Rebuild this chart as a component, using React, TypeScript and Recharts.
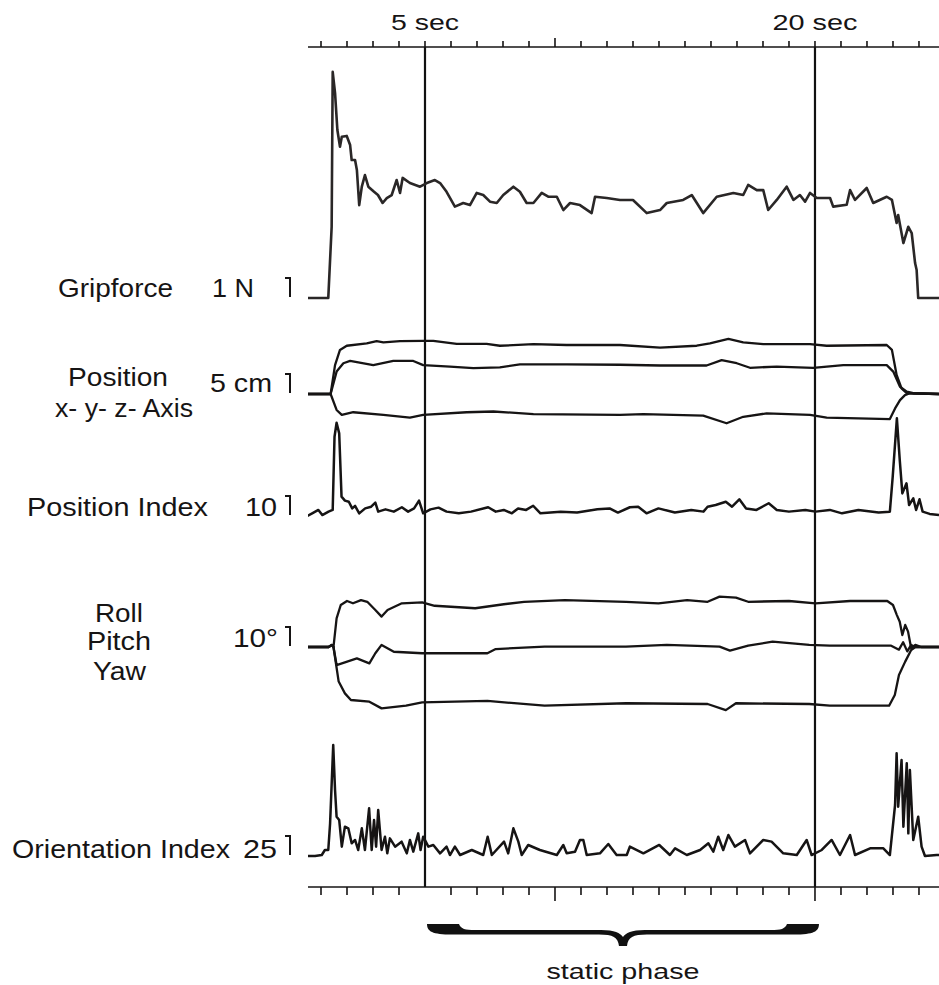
import {
  LineChart,
  Line,
  XAxis,
  YAxis,
  ReferenceLine,
  ReferenceArea,
} from "recharts";

// times in seconds, values in the unit of each scale bar
const gripT = [0.5, 1.28, 1.41, 1.45, 1.54, 1.63, 1.73, 1.8, 1.99, 2.12, 2.18, 2.31, 2.38, 2.47, 2.57, 2.69, 2.82, 3.04, 3.19, 3.37, 3.53, 3.72, 3.91, 4.04, 4.14, 4.42, 4.81, 5.07, 5.38, 5.58, 5.83, 6.15, 6.47, 6.73, 6.99, 7.24, 7.5, 7.76, 8.01, 8.4, 8.65, 8.91, 9.17, 9.49, 9.74, 10.07, 10.32, 10.58, 10.96, 11.41, 11.54, 11.99, 12.5, 13.0, 13.53, 14.04, 14.3, 14.93, 15.26, 15.7, 16.22, 16.86, 17.24, 17.43, 17.76, 18.01, 18.2, 18.53, 18.91, 19.17, 19.42, 19.62, 19.81, 20.07, 20.58, 20.7, 21.22, 21.35, 21.54, 21.99, 22.24, 22.76, 22.96, 23.14, 23.2, 23.4, 23.59, 23.72, 23.85, 23.91, 23.97, 24.77];
const gripN = [0, 0, 3.75, 11.9, 10.8, 8.84, 7.96, 8.49, 8.53, 8.05, 7.26, 7.26, 6.74, 4.89, 5.86, 6.47, 5.86, 5.59, 5.42, 5.0, 5.26, 5.42, 6.21, 5.53, 6.32, 6.05, 5.86, 6.05, 6.21, 6.05, 5.59, 4.81, 5.0, 4.89, 5.53, 5.42, 5.07, 5.0, 5.42, 5.86, 5.59, 5.0, 5.0, 5.53, 5.33, 5.33, 4.63, 5.0, 4.89, 4.47, 5.33, 5.26, 5.16, 5.16, 4.47, 4.63, 5.0, 5.16, 5.42, 4.47, 5.33, 5.53, 5.42, 5.95, 5.68, 5.68, 4.63, 5.16, 5.86, 5.16, 5.42, 5.07, 5.53, 5.26, 5.26, 4.81, 4.91, 5.68, 5.16, 5.79, 5.0, 5.33, 5.16, 3.95, 4.37, 2.89, 3.75, 3.42, 1.84, 1.47, 0, 0];

const posXT = [0.46, 1.37, 1.54, 1.73, 1.99, 2.76, 3.14, 3.4, 4.04, 4.93, 5.32, 6.22, 7.37, 7.88, 9.17, 10.45, 12.5, 14.04, 15.45, 15.96, 16.67, 17.24, 18.01, 19.81, 20.45, 22.76, 22.96, 23.14, 23.33, 23.53, 24.77];
const posX = [0, 0, 7.6, 11.6, 12.7, 13.3, 13.9, 13.6, 13.9, 14.0, 14.0, 13.2, 13.2, 12.7, 13.1, 12.9, 12.9, 12.2, 12.7, 13.3, 14.5, 13.6, 13.1, 13.1, 12.7, 12.9, 11.6, 5.0, 1.5, 0.2, 0];
const posYT = [0.46, 1.37, 1.6, 1.86, 2.12, 3.01, 3.78, 4.55, 4.93, 5.96, 6.86, 7.88, 8.65, 10.45, 12.5, 14.04, 15.83, 16.41, 16.99, 17.5, 18.53, 19.93, 21.09, 22.76, 23.01, 23.27, 23.53, 23.78, 24.77];
const posY = [0, 0, 5.9, 8.1, 8.7, 7.6, 8.7, 8.7, 7.6, 7.2, 6.8, 7.0, 7.8, 7.8, 7.7, 7.5, 7.5, 8.9, 8.1, 6.9, 7.2, 6.9, 7.6, 7.6, 5.9, 1.9, 0.6, 0.2, 0];
const posZT = [0.46, 1.37, 1.6, 1.8, 2.24, 3.4, 4.42, 4.93, 6.6, 7.63, 9.17, 12.5, 13.4, 15.7, 16.6, 17.24, 18.14, 19.81, 20.45, 22.88, 23.08, 23.27, 23.46, 23.65, 24.77];
const posZ = [0, 0, -4.2, -5.5, -4.8, -5.5, -6.2, -5.5, -4.8, -4.6, -5.3, -5.5, -5.3, -5.7, -7.7, -6.0, -5.1, -5.5, -6.2, -6.6, -3.8, -1.6, -0.3, 0.2, 0];

const posIdxT = [0.47, 0.66, 0.9, 1.05, 1.29, 1.45, 1.52, 1.6, 1.7, 1.79, 1.92, 2.07, 2.2, 2.31, 2.47, 2.7, 2.93, 3.09, 3.2, 3.48, 3.8, 4.11, 4.35, 4.58, 4.77, 4.93, 5.21, 5.52, 5.83, 6.3, 6.77, 7.43, 7.72, 8.03, 8.34, 8.58, 8.89, 9.16, 9.44, 10.22, 10.85, 11.63, 12.1, 12.42, 12.88, 13.2, 13.52, 13.98, 14.61, 15.24, 15.71, 15.87, 16.18, 16.57, 16.81, 17.09, 17.35, 17.75, 18.22, 18.53, 19.0, 19.63, 20.02, 20.57, 21.04, 21.67, 22.45, 22.88, 22.99, 23.15, 23.26, 23.36, 23.52, 23.62, 23.78, 23.89, 24.02, 24.14, 24.41, 24.77];
const posIdx = [0, 1.4, 3.2, 0.5, 2.3, 3.2, 41.7, 49.1, 43.5, 10.2, 8.1, 7.5, 4.0, 5.3, 1.4, 4.0, 4.9, 7.0, 2.3, 3.5, 2.3, 4.6, 2.3, 4.0, 8.1, 1.4, 3.5, 4.4, 2.3, 1.4, 2.3, 4.6, 2.3, 3.2, 1.4, 4.0, 3.2, 5.4, 1.4, 2.3, 1.8, 3.5, 4.0, 1.8, 4.6, 4.9, 1.4, 4.0, 1.8, 3.2, 2.3, 4.9, 5.8, 7.5, 4.9, 8.8, 4.0, 3.2, 6.7, 3.2, 2.3, 3.2, 2.3, 3.2, 1.4, 3.2, 1.8, 2.3, 20.7, 51.4, 29.5, 11.9, 17.2, 5.8, 9.3, 3.2, 8.8, 2.3, 1.1, 0.5];

const rollT = [0.5, 1.29, 1.42, 1.48, 1.6, 1.76, 2.0, 2.23, 2.54, 2.78, 3.09, 3.33, 3.56, 4.11, 4.89, 5.37, 6.93, 8.03, 8.81, 10.38, 12.73, 13.98, 15.08, 15.87, 16.33, 16.96, 17.43, 19.0, 20.02, 21.35, 22.78, 23.0, 23.15, 23.26, 23.36, 23.47, 23.58, 23.7, 23.86, 24.09, 24.77];
const roll = [0, 0, 1.1, 0, 15.1, 22.1, 24.2, 23, 24.7, 23.8, 19.5, 16, 19.5, 23, 23.5, 21.7, 20.4, 22.5, 23.8, 24.7, 23.8, 23, 24.7, 23.8, 26.5, 26, 23.8, 24.2, 23, 24.2, 24.2, 22.1, 16.8, 13.3, 6.3, 11.6, 8.1, -0.7, 1.1, 0, 0];
const pitchT = [0.5, 1.29, 1.42, 1.48, 1.6, 1.92, 2.38, 2.86, 3.09, 3.33, 3.8, 4.89, 7.4, 7.72, 9.6, 12.73, 14.3, 16.33, 16.73, 17.43, 18.37, 19.78, 20.57, 22.93, 23.23, 23.39, 23.55, 23.7, 23.86, 24.77];
const pitch = [0, 0, 1.1, 0, -9.5, -8.1, -6, -8.6, -3.3, 1.1, -2.5, -3.3, -3.3, -1.1, 0.2, 0.2, 1.1, 0.2, -1.9, 0.7, 2.8, 1.1, 0.7, 0.7, -1.4, 2.5, -2.3, 1.1, 0, 0];
const yawT = [0.5, 1.29, 1.42, 1.48, 1.68, 1.92, 2.15, 2.86, 3.33, 4.27, 4.89, 7.4, 9.6, 12.73, 15.87, 16.57, 16.96, 19.78, 20.57, 22.85, 23.07, 23.23, 23.47, 23.7, 23.86, 24.77];
const yaw = [0, 0, 1.1, 0, -18.2, -24.4, -27.9, -28.8, -32.3, -30.9, -29.1, -28.4, -30.9, -29.6, -30, -33.2, -29.6, -30, -30.9, -30.9, -25.3, -14.7, -7.7, -1.6, 0, 0];

const oriIdxT = [0.47, 0.77, 1.03, 1.15, 1.28, 1.35, 1.47, 1.54, 1.6, 1.7,
  1.8, 1.92, 2.05, 2.18, 2.31, 2.43, 2.57, 2.69, 2.85, 2.95,
  3.04, 3.12, 3.2, 3.33, 3.46, 3.55, 3.65, 3.85, 4.1, 4.3,
  4.42, 4.55, 4.74, 4.83, 4.93, 5.13, 5.32, 5.58, 5.83, 5.96,
  6.15, 6.35, 6.8, 7.24, 7.41, 7.57, 8.04, 8.2, 8.4, 8.59,
  8.72, 8.97, 9.42, 10.07, 10.32, 10.45, 10.77, 10.96, 11.09, 11.22,
  11.73, 12.05, 12.37, 12.76, 12.88, 13.4, 14.01, 14.42, 14.62, 15.07,
  15.58, 15.9, 16.09, 16.28, 16.47, 16.67, 16.92, 17.31, 17.5, 18.01,
  18.33, 18.78, 19.3, 19.68, 19.87, 20.26, 20.64, 20.96, 21.35, 21.54,
  22.12, 22.63, 22.88, 23.08, 23.14, 23.2, 23.33, 23.4, 23.53, 23.59,
  23.65, 23.78, 23.97, 24.1, 24.23, 24.68, 24.77];
const oriIdx = [0, 0, 1.3, 7.9, 7.9, 43, 146, 86.8, 51.7, 47.4,
  12.3, 38.6, 36.4, 16.7, 21.1, 7.9, 36.4, 7.9, 62.7, 7.9,
  47.4, 12.3, 60.5, 7.9, 25.4, 3.5, 23.2, 12.3, 18.9, 3.5,
  21.1, 5.7, 29.8, 7.9, 25.4, 12.3, 14.5, 3.5, 12.3, 1.3,
  12.3, 1.3, 7.9, 1.3, 25.4, 1.3, 18.9, 3.5, 36.4, 18.9,
  1.3, 14.5, 7.9, 1.3, 14.5, 3.5, 5.7, 21.1, 21.1, 1.3,
  3.5, 15.8, 1.3, 1.3, 12.3, 3.5, 14.5, 1.3, 10.1, 1.3,
  7.9, 16.7, 5.7, 25.4, 7.9, 27.6, 12.3, 21.1, 3.5, 21.1,
  18.9, 3.5, 1.3, 21.1, 1.3, 7.9, 21.1, 1.3, 27.6, 1.3,
  10.1, 10.1, 1.3, 67.1, 135.1, 64.9, 126.3, 38.6, 122, 29.8,
  113.2, 21.1, 51.7, 12.3, 0, 1.3, 1.3];

const secTicks = [1, 2, 3, 4, 5, 6, 7, 8, 9, 10, 11, 12, 13, 14, 15, 16, 17, 18, 19, 20, 21, 22, 23, 24];
const labelledSecs = [5, 20];
const secLabels = ["5 sec", "20 sec"];
const phaseStart = 5;
const phaseEnd = 20;

const W = 939;
const H = 985;
const PLOT_TOP = 47;
const PLOT_BOTTOM = 887;
const PLOT_LEFT = 308;
const T_MIN = 0.5;
const T_MAX = 24.77;
const BAR_PX = 19;
const INK = "#161414";
const FONT = "'Liberation Sans', Arial, Helvetica, sans-serif";

// each panel: baseline pixel and the value that the little scale bar stands for
const panels = [
  { id: "grip", base: 298, bar: 1, barText: "1 N", barX: 212, barW: 42, barY: 297 },
  { id: "pos", base: 394, bar: 5, barText: "5 cm", barX: 210, barW: 62, barY: 392 },
  { id: "posIdx", base: 516, bar: 10, barText: "10", barX: 245, barW: 32, barY: 516 },
  { id: "rot", base: 647, bar: 10, barText: "10°", barX: 233, barW: 45, barY: 647 },
  { id: "oriIdx", base: 856, bar: 25, barText: "25", barX: 243, barW: 34, barY: 858 },
];

const names = [
  { text: "Gripforce", x: 58, w: 115, y: 297 },
  { text: "Position", x: 68, w: 100, y: 386 },
  { text: "x- y- z- Axis", x: 55, w: 138, y: 417 },
  { text: "Position Index", x: 27, w: 181, y: 516 },
  { text: "Roll", x: 95, w: 48, y: 622 },
  { text: "Pitch", x: 87, w: 64, y: 650 },
  { text: "Yaw", x: 93, w: 53, y: 680 },
  { text: "Orientation Index", x: 12, w: 218, y: 858 },
];

const series = [
  { name: "Gripforce", axis: "grip", t: gripT, v: gripN, color: "#2a2727", w: 2.6 },
  { name: "x", axis: "pos", t: posXT, v: posX, color: INK, w: 2.3 },
  { name: "y", axis: "pos", t: posYT, v: posY, color: INK, w: 2.3 },
  { name: "z", axis: "pos", t: posZT, v: posZ, color: INK, w: 2.3 },
  { name: "Position Index", axis: "posIdx", t: posIdxT, v: posIdx, color: INK, w: 2.5 },
  { name: "Roll", axis: "rot", t: rollT, v: roll, color: INK, w: 2.3 },
  { name: "Pitch", axis: "rot", t: pitchT, v: pitch, color: INK, w: 2.3 },
  { name: "Yaw", axis: "rot", t: yawT, v: yaw, color: INK, w: 2.3 },
  { name: "Orientation Index", axis: "oriIdx", t: oriIdxT, v: oriIdx, color: INK, w: 2.5 },
];

const rows = (t: number[], v: number[]) => t.map((x, i) => ({ t: x, v: v[i] }));

function domainFor(base: number, bar: number): [number, number] {
  const k = BAR_PX / bar;
  return [-(PLOT_BOTTOM - base) / k, (base - PLOT_TOP) / k];
}

function TopTick(props: any) {
  const { x, y, payload } = props;
  const v = payload.value;
  const len = v === 10 ? 9 : 6;
  const li = labelledSecs.indexOf(v);
  return (
    <g>
      <line x1={x} x2={x} y1={y} y2={y - len} stroke={INK} strokeWidth={1.6} />
      {li >= 0 && (
        <text
          x={x}
          y={y - 17}
          textAnchor="middle"
          fontFamily={FONT}
          fontSize={22}
          fill={INK}
          textLength={li === 0 ? 68 : 85}
          lengthAdjust="spacingAndGlyphs"
        >
          {secLabels[li]}
        </text>
      )}
    </g>
  );
}

function BottomTick(props: any) {
  const { x, y, payload } = props;
  const v = payload.value;
  const len = v === 10 || v === 20 ? 14 : v === 5 ? 0 : 8;
  return <line x1={x} x2={x} y1={y} y2={y + len} stroke={INK} strokeWidth={1.6} />;
}

function Brace(props: any) {
  const L = props.x + 2;
  const R = props.x + props.width + 4;
  const M = (L + R) / 2;
  const T = 924;
  const d = [
    `M${L},${T} L${L + 32},${T}`,
    `C${L + 34},${T + 5} ${L + 38},${T + 6} ${L + 48},${T + 6}`,
    `L${M - 22},${T + 6}`,
    `C${M - 8},${T + 6} ${M - 3},${T + 9} ${M},${T + 13}`,
    `C${M + 3},${T + 9} ${M + 8},${T + 6} ${M + 22},${T + 6}`,
    `L${R - 48},${T + 6}`,
    `C${R - 38},${T + 6} ${R - 34},${T + 5} ${R - 32},${T}`,
    `L${R},${T}`,
    `C${R},${T + 8} ${R - 6},${T + 11} ${R - 30},${T + 10.5}`,
    `L${M + 24},${T + 10.5}`,
    `C${M + 10},${T + 10.5} ${M + 5},${T + 13} ${M + 4},${T + 22}`,
    `L${M - 4},${T + 22}`,
    `C${M - 5},${T + 13} ${M - 10},${T + 10.5} ${M - 24},${T + 10.5}`,
    `L${L + 30},${T + 10.5}`,
    `C${L + 6},${T + 11} ${L},${T + 8} ${L},${T} Z`,
  ].join(" ");
  return (
    <g>
      <path d={d} fill="#111" />
      <text
        x={M}
        y={979}
        textAnchor="middle"
        fontFamily={FONT}
        fontSize={22}
        fill={INK}
        textLength={153}
        lengthAdjust="spacingAndGlyphs"
      >
        static phase
      </text>
    </g>
  );
}

export default function App() {
  return (
    <div style={{ position: "absolute", left: 0, top: 0, width: W, height: H, background: "#fff" }}>
      <LineChart width={W} height={H} margin={{ top: 0, right: 0, bottom: 0, left: PLOT_LEFT }}>
        <XAxis
          xAxisId="top"
          orientation="top"
          type="number"
          dataKey="t"
          domain={[T_MIN, T_MAX]}
          allowDataOverflow
          ticks={secTicks}
          interval={0}
          height={PLOT_TOP}
          tickSize={0}
          tickMargin={0}
          tickLine={false}
          axisLine={{ stroke: INK, strokeWidth: 1.6 }}
          tick={(p: any) => <TopTick {...p} />}
        />
        <XAxis
          xAxisId="bottom"
          orientation="bottom"
          type="number"
          dataKey="t"
          domain={[T_MIN, T_MAX]}
          allowDataOverflow
          ticks={secTicks}
          interval={0}
          height={H - PLOT_BOTTOM}
          tickSize={0}
          tickMargin={0}
          tickLine={false}
          axisLine={{ stroke: INK, strokeWidth: 1.6 }}
          tick={(p: any) => <BottomTick {...p} />}
        />
        {panels.map((p) => (
          <YAxis
            key={p.id}
            yAxisId={p.id}
            type="number"
            hide
            domain={domainFor(p.base, p.bar)}
            allowDataOverflow
          />
        ))}
        <ReferenceLine xAxisId="bottom" yAxisId="grip" x={phaseStart} stroke="#111" strokeWidth={2.2} />
        <ReferenceLine xAxisId="bottom" yAxisId="grip" x={phaseEnd} stroke="#111" strokeWidth={2.2} />
        <ReferenceArea
          xAxisId="bottom"
          yAxisId="grip"
          x1={phaseStart}
          x2={phaseEnd}
          ifOverflow="visible"
          shape={(p: any) => <Brace {...p} />}
        />
        {series.map((s) => (
          <Line
            key={s.name}
            name={s.name}
            data={rows(s.t, s.v)}
            dataKey="v"
            xAxisId="bottom"
            yAxisId={s.axis}
            type="linear"
            stroke={s.color}
            strokeWidth={s.w}
            strokeLinejoin="round"
            dot={false}
            activeDot={false}
            isAnimationActive={false}
          />
        ))}
      </LineChart>
      <svg
        width={W}
        height={H}
        style={{ position: "absolute", left: 0, top: 0, pointerEvents: "none" }}
      >
        {names.map((n) => (
          <text
            key={n.text}
            x={n.x}
            y={n.y}
            fontFamily={FONT}
            fontSize={25}
            fill={INK}
            textLength={n.w}
            lengthAdjust="spacingAndGlyphs"
          >
            {n.text}
          </text>
        ))}
        {panels.map((p) => (
          <g key={p.id}>
            <text
              x={p.barX}
              y={p.barY}
              fontFamily={FONT}
              fontSize={25}
              fill={INK}
              textLength={p.barW}
              lengthAdjust="spacingAndGlyphs"
            >
              {p.barText}
            </text>
            <path
              d={`M${285},${p.base - 1 - BAR_PX} H${290} V${p.base - 1}`}
              fill="none"
              stroke={INK}
              strokeWidth={2}
            />
          </g>
        ))}
      </svg>
    </div>
  );
}
